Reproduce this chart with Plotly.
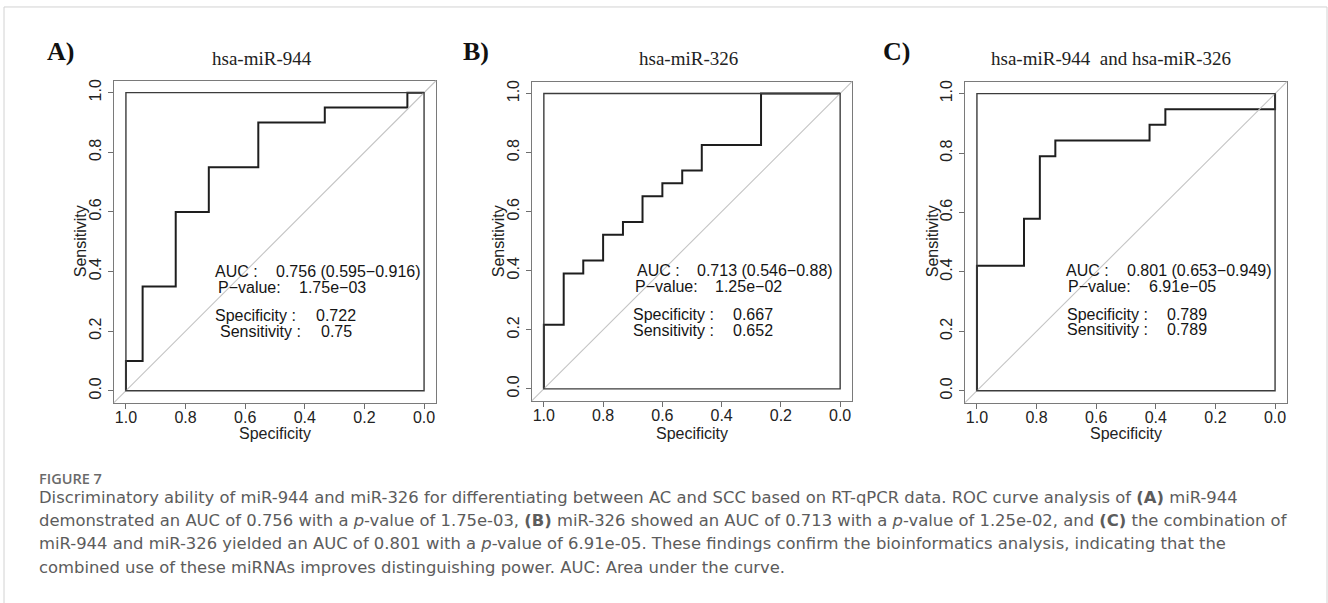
import plotly.graph_objects as go

W, H = 1328, 603

# ---------------- data ----------------
panel_letters = ["A)", "B)", "C)"]
panel_titles = ["hsa-miR-944", "hsa-miR-326", "hsa-miR-944&nbsp;&nbsp;and hsa-miR-326"]

spec_a = [1.0, 1.0, 0.944, 0.833, 0.722, 0.556, 0.333, 0.056, 0.0]
sens_a = [0.0, 0.1, 0.35, 0.6, 0.75, 0.9, 0.95, 1.0, 1.0]

spec_b = [1.0, 1.0, 0.933, 0.867, 0.8, 0.733, 0.667, 0.6, 0.533, 0.467, 0.267, 0.0]
sens_b = [0.0, 0.217, 0.391, 0.435, 0.522, 0.565, 0.652, 0.696, 0.739, 0.826, 1.0, 1.0]

spec_c = [1.0, 1.0, 0.842, 0.789, 0.737, 0.421, 0.368, 0.0, 0.0]
sens_c = [0.0, 0.421, 0.579, 0.789, 0.842, 0.895, 0.947, 0.947, 1.0]

auc_text = ["0.756 (0.595\u22120.916)", "0.713 (0.546\u22120.88)", "0.801 (0.653\u22120.949)"]
pval_text = ["1.75e\u221203", "1.25e\u221202", "6.91e\u221205"]
best_spec = ["0.722", "0.667", "0.789"]
best_sens = ["0.75", "0.652", "0.789"]

tick_vals = [0.0, 0.2, 0.4, 0.6, 0.8, 1.0]
tick_text = ["0.0", "0.2", "0.4", "0.6", "0.8", "1.0"]

caption_head = "FIGURE 7"
caption_lines = [
    "Discriminatory ability of miR-944 and miR-326 for differentiating between AC and SCC based on RT-qPCR data. ROC curve analysis of <b>(A)</b> miR-944",
    "demonstrated an AUC of 0.756 with a <i>p</i>-value of 1.75e-03, <b>(B)</b> miR-326 showed an AUC of 0.713 with a <i>p</i>-value of 1.25e-02, and <b>(C)</b> the combination of",
    "miR-944 and miR-326 yielded an AUC of 0.801 with a <i>p</i>-value of 6.91e-05. These findings confirm the bioinformatics analysis, indicating that the",
    "combined use of these miRNAs improves distinguishing power. AUC: Area under the curve.",
]

# ---------------- layout geometry (pixels) ----------------
boxes = [  # x0, x1, ytop, ybottom of plot frame
    (114, 436, 79, 402),
    (532, 852, 80, 400),
    (965, 1287, 80, 402),
]
letter_pos = [(45, 50), (461, 50), (881, 50)]
title_pos = [(262, 57), (688, 57), (1111, 57)]
xtitle_pos = [(275, 433), (692, 433), (1126, 433)]
ytitle_pos = [(80, 240), (498, 240), (932, 240)]
# text positions in data coords: (label_x, value_x, y) per row
txt_pos = [
    [(0.708, 0.503, 0.401), (0.698, 0.426, 0.348), (0.708, 0.369, 0.254), (0.691, 0.352, 0.200)],
    [(0.693, 0.490, 0.402), (0.699, 0.429, 0.348), (0.706, 0.368, 0.253), (0.706, 0.368, 0.199)],
    [(0.708, 0.503, 0.406), (0.701, 0.430, 0.352), (0.705, 0.369, 0.258), (0.705, 0.369, 0.205)],
]

def px(x):
    return x / W

def py(y):
    return 1 - y / H

SANS = "Liberation Sans, Arial, sans-serif"
SERIF = "Liberation Serif, Times New Roman, serif"
CAP = "DejaVu Sans, Open Sans, sans-serif"

fig = go.Figure()
layout = dict(
    width=W, height=H, margin=dict(l=0, r=0, t=0, b=0),
    paper_bgcolor="white", plot_bgcolor="white", showlegend=False,
)
annotations = []
shapes = []

specs = [spec_a, spec_b, spec_c]
senss = [sens_a, sens_b, sens_c]

for i in range(3):
    n = "" if i == 0 else str(i + 1)
    xa, ya = "x" + n, "y" + n
    x0, x1, yt, yb = boxes[i]
    axis_common = dict(
        tickmode="array", tickvals=tick_vals, ticktext=tick_text,
        ticks="outside", ticklen=5, tickcolor="#6e6e6e", tickwidth=1,
        showline=True, linecolor="#7a7a7a", linewidth=1.2, mirror=True,
        showgrid=False, zeroline=False,
        tickfont=dict(family=SANS, size=16, color="#222222"),
    )
    layout["xaxis" + n] = dict(
        axis_common, domain=[px(x0), px(x1)], range=[1.04, -0.04], anchor=ya,
        ticklabelstandoff=-5,
    )
    layout["yaxis" + n] = dict(
        axis_common, domain=[py(yb), py(yt)], range=[-0.04, 1.04], anchor=xa,
        tickangle=-90, ticklabelstandoff=1,
    )
    # diagonal reference line across the frame
    shapes.append(dict(type="line", xref=xa + " domain", yref=ya + " domain",
                       x0=0, y0=0, x1=1, y1=1,
                       line=dict(color="#c4c4c4", width=1.1)))
    # inner box at axis limits
    shapes.append(dict(type="rect", xref=xa, yref=ya, x0=1, x1=0, y0=0, y1=1,
                       line=dict(color="#3c3c3c", width=1.4)))
    fig.add_trace(go.Scatter(
        x=specs[i], y=senss[i], mode="lines", line_shape="hv",
        line=dict(color="#1e1e1e", width=2), xaxis=xa, yaxis=ya,
        hoverinfo="skip"))

    labels = ["AUC :", "P\u2212value:", "Specificity :", "Sensitivity :"]
    values = [auc_text[i], pval_text[i], best_spec[i], best_sens[i]]
    for (lx, vx, yy), lab, val in zip(txt_pos[i], labels, values):
        annotations.append(dict(xref=xa, yref=ya, x=lx, y=yy, text=lab,
                                showarrow=False, xanchor="left", yanchor="middle",
                                font=dict(family=SANS, size=16, color="#151515")))
        annotations.append(dict(xref=xa, yref=ya, x=vx, y=yy, text=val,
                                showarrow=False, xanchor="left", yanchor="middle",
                                font=dict(family=SANS, size=16, color="#151515")))

    lx, ly = letter_pos[i]
    annotations.append(dict(xref="paper", yref="paper", x=px(lx), y=py(ly),
                            text="<b>" + panel_letters[i] + "</b>", showarrow=False,
                            xanchor="left", yanchor="middle",
                            font=dict(family=SERIF, size=26, color="#111111")))
    tx, ty = title_pos[i]
    annotations.append(dict(xref="paper", yref="paper", x=px(tx), y=py(ty),
                            text=panel_titles[i], showarrow=False,
                            xanchor="center", yanchor="middle",
                            font=dict(family=SERIF, size=19, color="#222222")))
    ax_, ay_ = xtitle_pos[i]
    annotations.append(dict(xref="paper", yref="paper", x=px(ax_), y=py(ay_),
                            text="Specificity", showarrow=False,
                            xanchor="center", yanchor="middle",
                            font=dict(family=SANS, size=16, color="#222222")))
    bx_, by_ = ytitle_pos[i]
    annotations.append(dict(xref="paper", yref="paper", x=px(bx_), y=py(by_),
                            text="Sensitivity", showarrow=False, textangle=-90,
                            xanchor="center", yanchor="middle",
                            font=dict(family=SANS, size=16, color="#222222")))

# caption
annotations.append(dict(xref="paper", yref="paper", x=px(37), y=py(478),
                        text=caption_head, showarrow=False,
                        xanchor="left", yanchor="middle",
                        font=dict(family="Open Sans, sans-serif", size=14.5, weight=600,
                                  color="#6a6a6a")))
cap_y = [497, 520, 543, 567]
for line, yy in zip(caption_lines, cap_y):
    annotations.append(dict(xref="paper", yref="paper", x=px(37), y=py(yy),
                            text=line, showarrow=False,
                            xanchor="left", yanchor="middle",
                            font=dict(family=CAP, size=16.4, color="#5c5c5c")))

# outer figure frame
shapes.append(dict(type="rect", xref="paper", yref="paper",
                   x0=px(4), x1=px(1327), y0=py(640), y1=py(5),
                   line=dict(color="#d2d2d2", width=1)))

layout["annotations"] = annotations
layout["shapes"] = shapes
fig.update_layout(**layout)
fig.write_html("out.html", config={"displayModeBar": False},
               post_script="document.body.style.margin='0px';")
